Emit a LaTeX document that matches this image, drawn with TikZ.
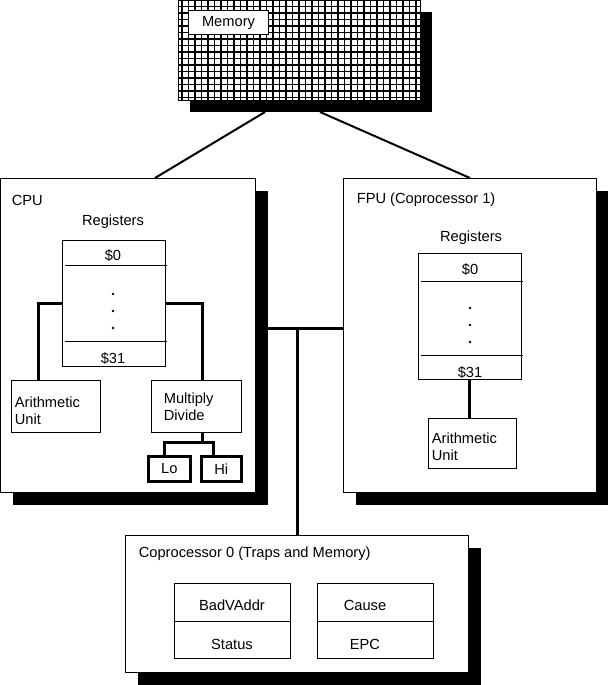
\documentclass[tikz,border=0pt]{standalone}
\usepackage{fontspec}
\setmainfont{Liberation Sans}
\tikzset{every picture/.style={line width=0.75pt}}
\tikzset{
	box/.style={draw, fill=white, line width=0.75pt, inner sep=0pt, anchor=north west},
	lbl/.style={font=\fontsize{11}{13}\selectfont, inner sep=1pt},
	bus/.style={line width=2.25pt}}

\begin{document}
\begin{tikzpicture}[x=0.75pt,y=0.75pt,yscale=-1,xscale=1]
	\useasboundingbox (0,0) rectangle (609,685);

	%Shape: Memory shadow and grid
	\fill (190,12) rectangle (432,112);
	\fill[white] (178,0) rectangle (420,100);
	\draw[line width=1.2pt, step=6.5] (178,0) grid (420,100);
	\draw (178,0) rectangle (420,100);
	\node[box, minimum width=60pt, minimum height=18pt] (mem) at (188,10) {};
	\node[lbl] at (mem.center) {Memory};

	%Shapes: shadows
	\fill (13,191) rectangle (268,505);
	\fill (356,191) rectangle (608,505);
	\fill (138,548) rectangle (481,685);

	%Shapes: main boxes
	\node[box, minimum width=191.25pt, minimum height=235.5pt] (cpu) at (0,178) {};
	\node[box, minimum width=189.75pt, minimum height=235.5pt] (fpu) at (343,178) {};
	\node[box, minimum width=257.25pt, minimum height=102.75pt] (cop) at (125,535) {};

	%Straight Lines: memory to units
	\coordinate (m1) at (265,112);
	\coordinate (m2) at (320,112);
	\draw[line width=1.5pt] (m1) -- (155,178);
	\draw[line width=1.5pt] (m2) -- (470,178);

	%Straight Lines: bus
	\coordinate (b1) at (255,328);
	\coordinate (b2) at (343,328);
	\draw[bus] (b1) -- (b2);
	\draw[bus] (297,328) -- (297,535);

	% Text Node
	\node[lbl, anchor=west] at (10,200) {CPU};
	\node[lbl, anchor=west] at (355,200) {FPU (Coprocessor 1)};
	\node[lbl, anchor=west] at (137,554) {Coprocessor 0 (Traps and Memory)};

	%CPU registers
	\node[lbl] at (113,222) {Registers};
	\node[box, minimum width=77.25pt, minimum height=94.5pt] (creg) at (62,240) {};
	\draw (65,265) -- (167,265);
	\draw (65,341) -- (167,341);
	\node[lbl] at (113,256) {\$0};
	\node[lbl] at (113,359) {\$31};
	\foreach \y in {294,311,328} \fill (113,\y) circle (1pt);

	%CPU units
	\node[box, minimum width=66.75pt, minimum height=39pt] (alu) at (11,380) {};
	\node[lbl, anchor=north west, align=left] at (13,395) {Arithmetic\\Unit};
	\node[box, minimum width=67.5pt, minimum height=39pt] (mdu) at (151,380) {};
	\node[lbl, anchor=north west, align=left] at (162,391) {Multiply\\Divide};
	\node[box, line width=2pt, minimum width=31.5pt, minimum height=18.75pt] (lo) at (147,455) {};
	\node[lbl] at (lo.center) {Lo};
	\node[box, line width=2pt, minimum width=30pt, minimum height=18.75pt] (hi) at (200,455) {};
	\node[lbl] at (hi.center) {Hi};
	\draw[bus] (creg.west |- 0,303) -| (alu.north -| 38,0);
	\draw[bus] (creg.east |- 0,303) -| (mdu.north -| 202,0);
	\draw[bus] (mdu.south -| 202,0) -- (202,442);
	\draw[bus] (lo.north -| 164,0) |- (213,442) -- (hi.north -| 213,0);

	%FPU registers
	\node[lbl] at (471,238) {Registers};
	\node[box, minimum width=77.25pt, minimum height=94.5pt] (freg) at (418,253) {};
	\draw (421,281) -- (523,281);
	\draw (421,355) -- (523,355);
	\node[lbl] at (470,270) {\$0};
	\node[lbl] at (470,373) {\$31};
	\foreach \y in {308,325,342} \fill (470,\y) circle (1pt);
	\node[box, minimum width=66pt, minimum height=37.5pt] (falu) at (428,418) {};
	\node[lbl, anchor=north west, align=left] at (430,431) {Arithmetic\\Unit};
	\draw[bus] (freg.south -| 469,0) -- (falu.north -| 469,0);

	%Coprocessor 0 registers
	\node[box, minimum width=87pt, minimum height=56.25pt] (bad) at (174,583) {};
	\draw (174,621) -- (290,621);
	\node[lbl] at (232,605) {BadVAddr};
	\node[lbl] at (232,644) {Status};
	\node[box, minimum width=87pt, minimum height=56.25pt] (cause) at (317,583) {};
	\draw (317,621) -- (433,621);
	\node[lbl] at (365,605) {Cause};
	\node[lbl] at (365,644) {EPC};
\end{tikzpicture}
\end{document}
